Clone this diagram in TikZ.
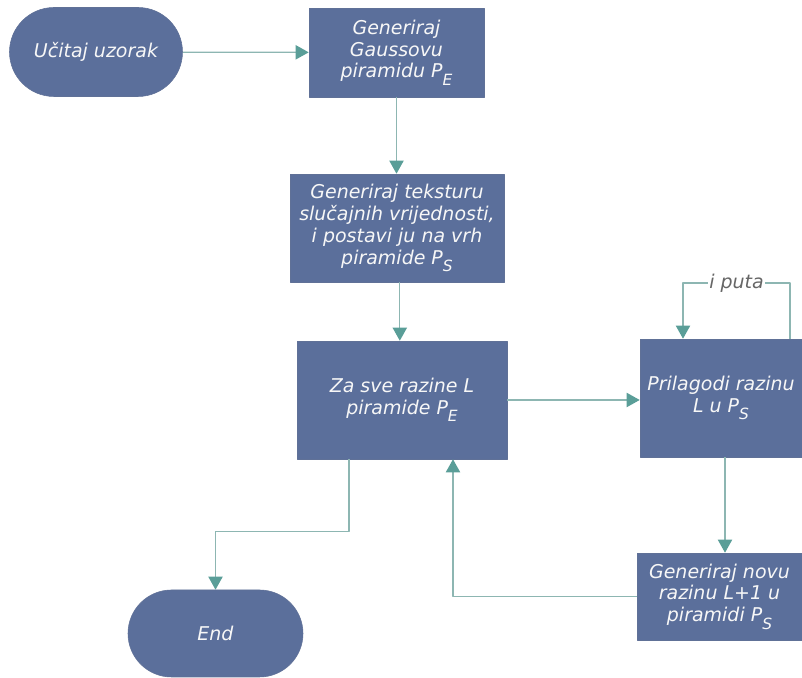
\documentclass[tikz,border=0pt]{standalone}
\usepackage{fontspec}
\setmainfont{DejaVu Sans}
\usepackage{tikz}
\usetikzlibrary{arrows.meta,shapes.misc}
\definecolor{boxblue}{HTML}{5B6F9B}
\definecolor{linkgray}{HTML}{8DB6B2}
\definecolor{tipteal}{HTML}{5A9E98}
\tikzset{
  every picture/.style={line join=round, >={Triangle[length=3.3mm,width=3.6mm,color=tipteal]}},
  box/.style={rectangle, fill=boxblue, draw=boxblue!85!gray, text=white!94!gray, align=center,
    font=\fontsize{13.5}{15.6}\selectfont\itshape, inner sep=0pt},
  term/.style={box, rounded rectangle},
  link/.style={draw=linkgray, line width=0.9pt},
}
\newcommand{\sub}[1]{\raisebox{-0.7ex}{\fontsize{11}{11}\selectfont #1}}

\begin{document}
\begin{tikzpicture}
\useasboundingbox (0,0) rectangle (20.05,16.95);
\node[term, minimum width=4.325cm, minimum height=2.225cm] (load) at (2.4,15.65) {Učitaj uzorak};
\node[box, minimum width=4.375cm, minimum height=2.225cm] (gauss) at (9.9125,15.6375) {Generiraj\\Gaussovu\\piramidu P\sub{E}};
\node[box, minimum width=5.35cm, minimum height=2.7cm] (tex) at (9.925,11.25) {Generiraj teksturu\\slučajnih vrijednosti,\\i postavi ju na vrh\\piramide P\sub{S}};
\node[box, minimum width=5.25cm, minimum height=2.95cm] (all) at (10.05,6.95) {Za sve razine L\\piramide P\sub{E}};
\node[box, minimum width=4.05cm, minimum height=2.95cm] (adj) at (18.025,7.0) {Prilagodi razinu\\L u P\sub{S}};
\node[box, minimum width=4.125cm, minimum height=2.175cm] (new) at (17.9875,2.0375) {Generiraj novu\\razinu L+1 u\\piramidi P\sub{S}};
\node[term, minimum width=4.375cm, minimum height=2.175cm] (end) at (5.3875,1.1125) {End};

\coordinate (loopR) at (19.75,9.875);
\coordinate (loopL) at (17.075,9.875);

\draw[link,->] (load) -- (gauss);
\draw[link,->] (gauss.south) -- (gauss.south |- tex.north);
\draw[link,->] ([xshift=0.7mm]tex.south) -- ([xshift=0.7mm]tex.south |- all.north);
\draw[link,->] (all.east) -- (all.east -| adj.west);
\draw[link,->] (loopR |- adj.north) -- (loopR) -- node[fill=white, inner sep=1pt, text=gray!80!black, font=\fontsize{13.5}{15.6}\selectfont\itshape]{i puta} (loopL) -- (loopL |- adj.north);
\draw[link,->] ([xshift=1mm]adj.south) -- ([xshift=1mm]adj.south |- new.north);
\draw[link,->] (new.west) -| ([xshift=12.75mm]all.south);
\draw[link,->] ([xshift=-13.25mm]all.south) -- ++(0,-1.8) -| (end.north);
\end{tikzpicture}
\end{document}
